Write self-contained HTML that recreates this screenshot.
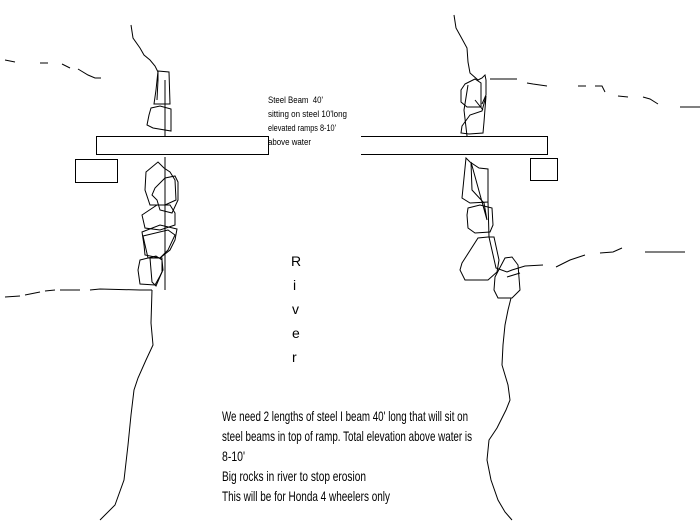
<!DOCTYPE html>
<html><head><meta charset="utf-8"><style>
html,body{margin:0;padding:0;background:#fff;}
svg{display:block;}
text{font-family:"Liberation Sans",sans-serif;fill:#000;}
</style></head><body>
<svg width="700" height="525" viewBox="0 0 700 525" xmlns="http://www.w3.org/2000/svg">
<g fill="none" stroke="#000" stroke-width="1">
<rect x="96.5" y="136.5" width="172" height="18"/>
<rect x="75.5" y="159.5" width="42" height="23"/>
<polyline points="361,136.5 547.5,136.5 547.5,154.5 361,154.5"/>
<rect x="530.5" y="158.5" width="27" height="22"/>
<polyline points="131,25 133,38 140,48 144,55 150,60 155,66 158,72 158,80 157,100"/>
<polyline points="5,60 15,62"/><polyline points="40,63 48,63"/><polyline points="62,64 70,68"/>
<polyline points="78,69 88,75 95,78 101,78"/>
<polygon points="158,71 169,72 170,104 154,104 156,90"/>
<polygon points="151,108 160,106 171,109 171,131 153,128 147,125 149,115"/>
<line x1="165" y1="80" x2="165" y2="136"/>
<line x1="165" y1="157" x2="165" y2="290"/>
<polygon points="146,172 158,162 164,168 170,172 175,180 176,200 165,205 150,205 145,190"/>
<polygon points="165,178 175,176 178,182 178,200 172,213 160,210 157,200 152,195 155,188"/>
<polygon points="142,215 157,205 170,205 175,213 175,225 160,230 145,228"/>
<polygon points="142,232 160,225 177,229 175,240 170,250 160,258 145,255 144,245"/>
<polygon points="143,236 168,230 175,235 168,250 160,258 148,258"/>
<polygon points="140,260 156,256 162,260 163,270 160,276 155,285 140,284 138,270"/>
<polygon points="150,258 162,258 162,272 156,286 152,282"/>
<polyline points="5,297 20,296"/><polyline points="25,295 40,292"/><polyline points="45,291 55,290"/><polyline points="60,290 80,290"/><polyline points="90,290 100,289 140,290 152,290"/>
<polyline points="152,290 151,323 153,345 146,360 138,378 134,390 131,415 128,445 124,480 115,505 100,520"/>
<polyline points="454,15 456,28 461,37 467,48 468,62 470,73 478,80 482,78 485,75 486,80 486,95 482,104"/>
<polygon points="465,84 475,79 481,83 481,107 467,107 461,102 461,90"/>
<polygon points="462,126 470,115 482,111 486,96 484,122 483,133 469,134 461,133"/>
<polyline points="468,85 464,110 467,136"/>
<line x1="475" y1="100" x2="483" y2="110"/>
<polyline points="490,79 517,79"/><polyline points="527,83 533,84 547,86"/><polyline points="578,86 586,86"/>
<polyline points="595,86 602,86 605,92"/><polyline points="618,96 628,97"/><polyline points="643,97 650,99 658,104"/><polyline points="680,107 700,107"/>
<polygon points="466,158 470,162 479,168 488,169 488,202 470,203 462,198"/>
<polygon points="471,162 472,190 484,203 487,220"/>
<polygon points="468,208 480,205 492,208 493,225 490,232 475,233 468,228 467,215"/>
<polygon points="462,263 478,238 488,237 494,237 499,260 497,272 488,280 465,280 460,270"/>
<polygon points="495,277 505,258 512,257 518,265 520,290 512,298 498,298 494,290"/>
<polyline points="488,202 489,237 496,268 507,272 512,270 525,266 543,265"/>
<line x1="507" y1="277" x2="520" y2="273"/>
<polyline points="556,267 570,260 585,255"/><polyline points="600,253 613,252 622,248"/><polyline points="645,252 685,252"/>
<polyline points="511,298 508,310 505,325 503,345 502,365 508,385 510,400 506,410 497,428 489,440 487,460 491,480 498,500 505,512 512,520"/>
</g>
<g font-size="9">
<text x="268" y="103" textLength="55" lengthAdjust="spacingAndGlyphs">Steel Beam&#160;&#160;40'</text>
<text x="268" y="117" textLength="79" lengthAdjust="spacingAndGlyphs">sitting on steel 10'long</text>
<text x="268" y="131" textLength="68" lengthAdjust="spacingAndGlyphs">elevated ramps 8-10'</text>
<text x="268" y="145" textLength="43" lengthAdjust="spacingAndGlyphs">above water</text>
</g>
<g font-size="14">
<text x="291" y="266">R</text>
<text x="293" y="290">i</text>
<text x="292" y="314">v</text>
<text x="292" y="338">e</text>
<text x="292" y="362">r</text>
</g>
<g font-size="14">
<text x="222" y="421" textLength="246" lengthAdjust="spacingAndGlyphs">We need 2 lengths of steel I beam 40' long that will sit on</text>
<text x="222" y="441" textLength="250" lengthAdjust="spacingAndGlyphs">steel beams in top of ramp. Total elevation above water is</text>
<text x="222" y="461" textLength="23" lengthAdjust="spacingAndGlyphs">8-10'</text>
<text x="222" y="481" textLength="144" lengthAdjust="spacingAndGlyphs">Big rocks in river to stop erosion</text>
<text x="222" y="501" textLength="168" lengthAdjust="spacingAndGlyphs">This will be for Honda 4 wheelers only</text>
</g>
</svg>
</body></html>
